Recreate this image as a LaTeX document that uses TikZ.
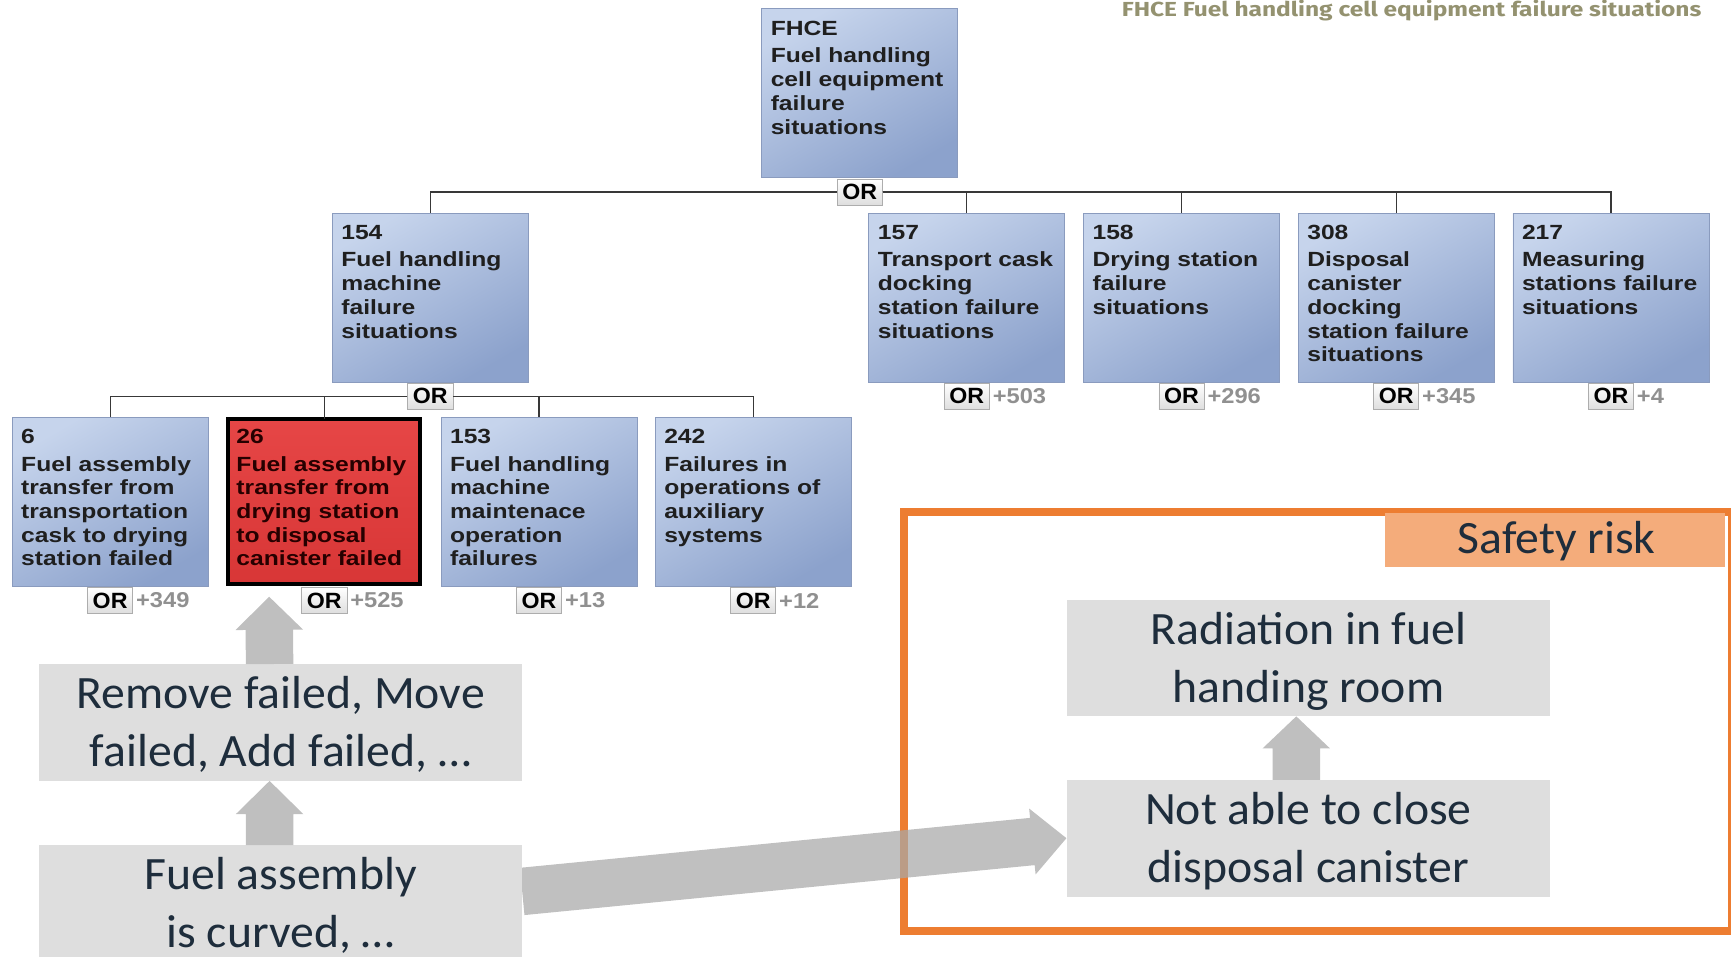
\documentclass[tikz,border=0pt]{standalone}
\usepackage{fontspec}
\usepackage{graphicx}
\usetikzlibrary{calc}
\setmainfont{Liberation Sans}
\newfontfamily\boxfont[FakeStretch=1.2]{Liberation Sans}
\newfontfamily\orfont[FakeStretch=1.05]{Liberation Sans}
\newfontfamily\plusfont[FakeStretch=1.1]{Liberation Sans}
\newfontfamily\slidefont[FakeStretch=1.03]{Carlito}
\newfontfamily\titlefont{Fira Sans}

\definecolor{boxtop}{HTML}{C6D4EC}
\definecolor{boxbot}{HTML}{8CA2CC}
\definecolor{boxedge}{HTML}{8A9BBE}
\definecolor{failtop}{HTML}{E64646}
\definecolor{failbot}{HTML}{D83636}
\definecolor{riskorange}{HTML}{ED7D31}
\definecolor{risklabel}{HTML}{F4AC7B}
\definecolor{slidegray}{HTML}{DEDEDE}
\definecolor{arrowgray}{HTML}{BFBFBF}
\definecolor{slidetext}{HTML}{1E2D3C}
\definecolor{titleolive}{RGB}{148,146,112}
\definecolor{plusgray}{HTML}{909090}

% event text: number on the first line, description below it
\newcommand\evtext[2]{\begin{tabular}[t]{@{}l@{}}#1\\[3.5pt]#2\end{tabular}}
% centred multi-line slide text
\newcommand\twoline[1]{\begin{tabular}[t]{@{}c@{}}#1\end{tabular}}
% block arrow: #1 style, #2 tail, #3 tip, #4 half shaft, #5 half head, #6 head length
\newcommand\fatarrow[6]{%
  \coordinate (fa-base) at ($(#3)!#6!(#2)$);
  \fill[#1] ($(#2)!#4!90:(#3)$) -- ($(fa-base)!#4!90:(#3)$) -- ($(fa-base)!#5!90:(#3)$)
    -- (#3) -- ($(fa-base)!#5!-90:(#3)$) -- ($(fa-base)!#4!-90:(#3)$)
    -- ($(#2)!#4!-90:(#3)$) -- cycle;}

\begin{document}
\begin{tikzpicture}[x=1pt,y=-1pt,
  conn/.style={draw=black!78, line width=1.1pt},
  fbox/.style={rectangle, anchor=north west, inner sep=0pt, outer sep=0pt,
    minimum width=177.5pt, minimum height=153pt, draw=boxedge, line width=0.8pt,
    top color=boxtop, bottom color=boxbot, shading angle=30},
  redbox/.style={rectangle, anchor=north west, inner sep=0pt, outer sep=0pt,
    minimum width=173.9pt, minimum height=149.4pt, draw=black, line width=3.6pt,
    top color=failtop, bottom color=failbot},
  ftext/.style={anchor=base west, inner sep=0pt, text=black!88,
    font=\boxfont\bfseries\fontsize{18.6}{21.5}\selectfont},
  orbadge/.style={rectangle, inner sep=0pt, minimum width=41pt, minimum height=23.5pt,
    draw=black!32, line width=0.7pt, top color=white, bottom color=black!13,
    font=\orfont\bfseries\fontsize{20}{20}\selectfont},
  plus/.style={anchor=west, inner sep=0pt, xshift=2.5pt, text=plusgray,
    font=\plusfont\bfseries\fontsize{19.5}{19.5}\selectfont},
  gbox/.style={rectangle, anchor=north west, inner sep=0pt, fill=slidegray,
    minimum width=438pt, minimum height=105.5pt},
  gtext/.style={anchor=base, inner sep=0pt, text=slidetext,
    font=\slidefont\fontsize{42}{52}\selectfont},
  uparrow/.style={fill=arrowgray},
  crossarrow/.style={fill={rgb,255:red,168;green,168;blue,168}, fill opacity=0.72}]

\useasboundingbox (0,0) rectangle (1568,866);

% heading of the tree view
\node[anchor=base west, inner sep=0pt, text=titleolive,
  font=\titlefont\bfseries\fontsize{18.4}{20}\selectfont] (title) at (1016,14.5)
  {\resizebox{525pt}{\height}{FHCE Fuel handling cell equipment failure situations}};

% fault tree events
\node[fbox] (bF) at (690,7.5) {};
\node[fbox] (b154) at (301,193) {};
\node[fbox] (b157) at (787,193) {};
\node[fbox] (b158) at (981.5,193) {};
\node[fbox] (b308) at (1176,193) {};
\node[fbox] (b217) at (1370.5,193) {};
\node[fbox] (b6) at (11,378) {};
\node[redbox] (b26) at (206.8,379.8) {};
\node[fbox] (b153) at (399.5,378) {};
\node[fbox] (b242) at (593.5,378) {};

\node[ftext] (tF) at ([xshift=8pt,yshift=-24.5pt]bF.north west)
  {\evtext{FHCE}{Fuel handling\\cell equipment\\failure\\situations}};
\node[ftext] (t154) at ([xshift=8pt,yshift=-23.7pt]b154.north west)
  {\evtext{154}{Fuel handling\\machine\\failure\\situations}};
\node[ftext] (t157) at ([xshift=8pt,yshift=-23.7pt]b157.north west)
  {\evtext{157}{Transport cask\\docking\\station failure\\situations}};
\node[ftext] (t158) at ([xshift=8pt,yshift=-23.7pt]b158.north west)
  {\evtext{158}{Drying station\\failure\\situations}};
\node[ftext] (t308) at ([xshift=8pt,yshift=-23.7pt]b308.north west)
  {\evtext{308}{Disposal\\canister\\docking\\station failure\\situations}};
\node[ftext] (t217) at ([xshift=8pt,yshift=-23.7pt]b217.north west)
  {\evtext{217}{Measuring\\stations failure\\situations}};
\node[ftext] (t6) at ([xshift=8pt,yshift=-23.7pt]b6.north west)
  {\evtext{6}{Fuel assembly\\transfer from\\transportation\\cask to drying\\station failed}};
\node[ftext, text=black!85!red] (t26) at ([xshift=7.2pt,yshift=-21.9pt]b26.north west)
  {\evtext{26}{Fuel assembly\\transfer from\\drying station\\to disposal\\canister failed}};
\node[ftext] (t153) at ([xshift=8pt,yshift=-23.7pt]b153.north west)
  {\evtext{153}{Fuel handling\\machine\\maintenace\\operation\\failures}};
\node[ftext] (t242) at ([xshift=8pt,yshift=-23.7pt]b242.north west)
  {\evtext{242}{Failures in\\operations of\\auxiliary\\systems}};

% gate badges
\node[orbadge] (orF) at ([yshift=-13.5pt]bF.south) {OR};
\node[orbadge] (or154) at ([yshift=-13pt]b154.south) {OR};
\node[orbadge] (or157) at ([yshift=-13pt]b157.south) {OR};
\node[orbadge] (or158) at ([yshift=-13pt]b158.south) {OR};
\node[orbadge] (or308) at ([yshift=-13pt]b308.south) {OR};
\node[orbadge] (or217) at ([yshift=-13pt]b217.south) {OR};
\node[orbadge] (or6) at ([yshift=-13pt]b6.south) {OR};
\node[orbadge] (or26) at ([yshift=-14.8pt]b26.south) {OR};
\node[orbadge] (or153) at ([yshift=-13pt]b153.south) {OR};
\node[orbadge] (or242) at ([yshift=-13pt]b242.south) {OR};

\node[plus] (p157) at (or157.east) {+503};
\node[plus] (p158) at (or158.east) {+296};
\node[plus] (p308) at (or308.east) {+345};
\node[plus] (p217) at (or217.east) {+4};
\node[plus] (p6) at (or6.east) {+349};
\node[plus] (p26) at (or26.east) {+525};
\node[plus] (p153) at (or153.east) {+13};
\node[plus] (p242) at (or242.east) {+12};

% tree connectors
\foreach \c in {b154,b157,b158,b308,b217}
  \draw[conn] (orF) -| (\c.north);
\foreach \c in {b6,b26,b153,b242}
  \draw[conn] (or154) -| (\c.north);

% safety risk frame
\node[draw=riskorange, line width=7pt, minimum width=749.5pt, minimum height=379.5pt,
  inner sep=0pt, anchor=north west] (frame) at (815.5,460.5) {};
\node[fill=risklabel, minimum width=308pt, minimum height=48.5pt, inner sep=0pt,
  anchor=north west] (risk) at (1254,464.5) {};
\node[gtext] (risktext) at ([xshift=2pt,yshift=-12.25pt]risk.center) {Safety risk};

% cause-effect chain
\coordinate (crossTail) at (473,807.5);
\coordinate (crossTip) at (966,759.25);
\fatarrow{crossarrow}{crossTail}{crossTip}{21.5pt}{30pt}{31pt}

\node[gbox] (g1) at (35,601.5) {};
\node[gbox] (g2) at (35,765.5) {};
\node[gbox] (g3) at (966,543) {};
\node[gbox] (g4) at (966,706.5) {};

\node[gtext] (tg1) at ([yshift=-40.5pt]g1.north) {\twoline{Remove failed, Move\\failed, Add failed, …}};
\node[gtext] (tg2) at ([yshift=-40.5pt]g2.north) {\twoline{Fuel assembly\\is curved, …}};
\node[gtext] (tg3) at ([yshift=-41pt]g3.north) {\twoline{Radiation in fuel\\handing room}};
\node[gtext] (tg4) at ([yshift=-40.5pt]g4.north) {\twoline{Not able to close\\disposal canister}};

\coordinate (a1tail) at ([xshift=-10pt]g1.north);
\coordinate (a1tip) at ([xshift=-50pt,yshift=-11.3pt]b26.south);
\coordinate (a2tail) at ([xshift=-10pt]g2.north);
\coordinate (a2tip) at ([xshift=-10pt]g1.south);
\coordinate (a3tail) at ([xshift=-11pt]g4.north);
\coordinate (a3tip) at ([xshift=-11pt]g3.south);
\fatarrow{uparrow}{a1tail}{a1tip}{21.5pt}{30.5pt}{30pt}
\fatarrow{uparrow}{a2tail}{a2tip}{21.5pt}{30.5pt}{30pt}
\fatarrow{uparrow}{a3tail}{a3tip}{21.5pt}{30.5pt}{29pt}

\end{tikzpicture}
\end{document}
